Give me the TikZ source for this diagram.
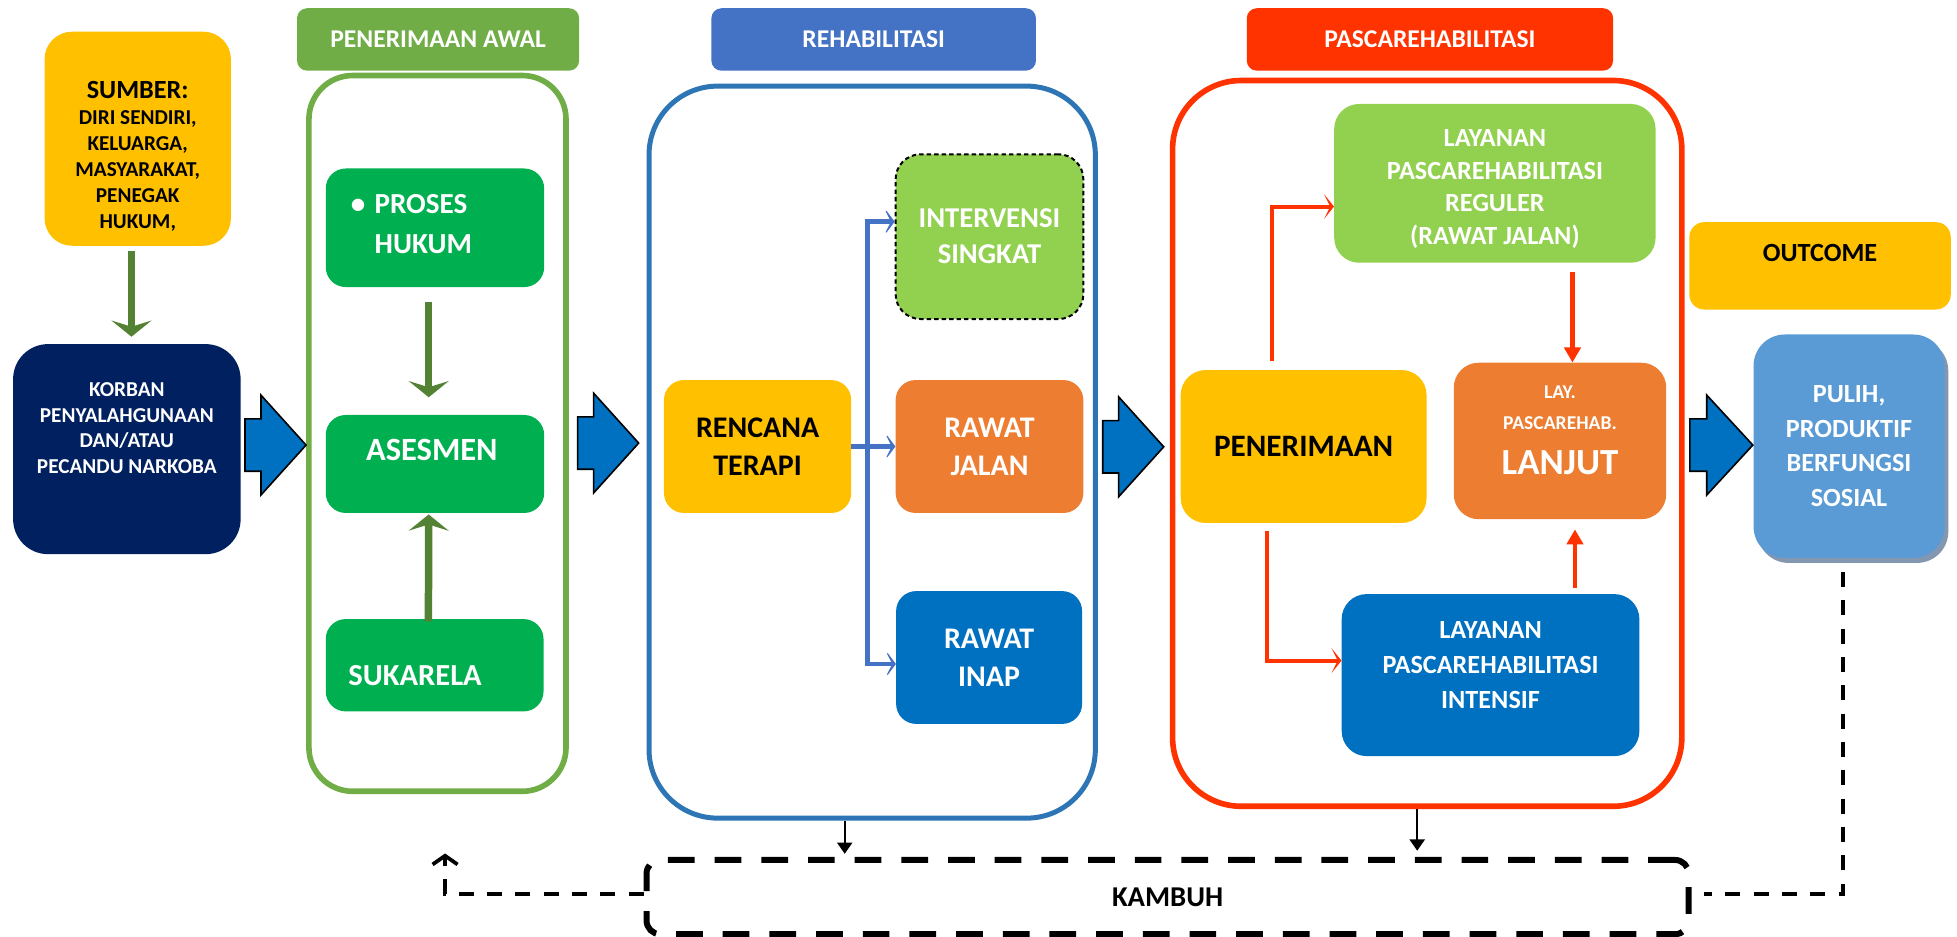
\documentclass[tikz,border=0pt]{standalone}
\usepackage{fontspec}
\setmainfont{Carlito}
\usetikzlibrary{arrows.meta,calc,shadows}
\definecolor{kuning}{HTML}{FFC000}
\definecolor{navy}{HTML}{002060}
\definecolor{hijaujudul}{HTML}{70AD47}
\definecolor{hijau}{HTML}{00B050}
\definecolor{hijautua}{HTML}{548235}
\definecolor{hijaumuda}{HTML}{92D050}
\definecolor{birujudul}{HTML}{4472C4}
\definecolor{biruwadah}{HTML}{2E75B6}
\definecolor{biru}{HTML}{0070C0}
\definecolor{birulangit}{HTML}{5B9BD5}
\definecolor{bayangan}{HTML}{8497B0}
\definecolor{oranye}{HTML}{ED7D31}
\definecolor{merah}{HTML}{FF3300}

\begin{document}
\begin{tikzpicture}[x=1pt,y=-1pt,
		kotak/.style={rectangle,rounded corners=16pt,inner sep=2pt,align=center,text=white,font=\bfseries},
		teks/.style={inner sep=0pt,align=center,text=white},
		wadah/.style={rectangle,draw,fill=none},
		judul/.style={rectangle,rounded corners=8pt,text=white,minimum height=50pt,font=\bfseries\fontsize{20.5}{24}\selectfont},
		panah blok/.style={draw=black,line width=1.3pt,fill=biru,line join=miter},
		panah hijau/.style={draw=hijautua,line width=6pt,-{Stealth[length=13pt,width=32pt,inset=5pt]}},
		panah cabang/.style={draw=birujudul,line width=3.5pt,-{Stealth[length=9pt,width=24pt,inset=6pt]}},
		panah merah/.style={draw=merah,line width=3.3pt,-{Stealth[length=8pt,width=20pt,inset=5pt]}},
		panah merah tebal/.style={draw=merah,line width=3.3pt,-{Triangle[length=12pt,width=13pt]}},
		garis hitam/.style={draw=black,line width=1.8pt,-{Triangle[length=9pt,width=12pt]}},
		putus/.style={draw=black,line width=3pt,dash pattern=on 12pt off 10.7pt}]
		\useasboundingbox (0,0) rectangle (1568,750);
		\clip (0,0) rectangle (1568,750);
		% sumber dan korban
		\node[kotak, fill=kuning, rounded corners=22pt, minimum width=149.3pt, minimum height=171.5pt] (sumber) at (110.35,111.15) {};
		\node[teks, text=black, font=\bfseries\fontsize{17}{20.7}\selectfont] (sumber-t) at (110.35,125.2) {{\fontsize{21}{22}\selectfont SUMBER:}\\DIRI SENDIRI,\\KELUARGA,\\MASYARAKAT,\\PENEGAK\\HUKUM,};
		\node[kotak, fill=navy, rounded corners=28pt, minimum width=182.3pt, minimum height=168.3pt] (korban) at (101.65,359.85) {};
		\node[teks, font=\bfseries\fontsize{17}{20.7}\selectfont] (korban-t) at (101.65,343) {KORBAN\\PENYALAHGUNAAN\\DAN/ATAU\\PECANDU NARKOBA};
		
		% penerimaan awal
		\node[judul, fill=hijaujudul, minimum width=226pt] (jawal) at (351,31.6) {PENERIMAAN AWAL};
		\node[wadah, draw=hijaujudul, line width=4.5pt, rounded corners=35pt, minimum width=206pt, minimum height=573.5pt] (awal) at (350.5,347.25) {};
		\node[kotak, fill=hijau, minimum width=175pt, minimum height=95pt] (proses) at (348.5,182.5) {};
		\node[teks, anchor=west, align=left, font=\bfseries\fontsize{23.3}{32}\selectfont] (proses-t) at (281,179.5) {\makebox[19pt][l]{\textbullet}PROSES\\\hspace*{19pt}HUKUM};
		\node[kotak, fill=hijau, minimum width=175pt, minimum height=78.5pt] (asesmen) at (348.5,371.75) {};
		\node[teks, font=\bfseries\fontsize{26}{30}\selectfont] (asesmen-t) at (346,360.6) {ASESMEN};
		\node[kotak, fill=hijau, minimum width=174.5pt, minimum height=74pt] (sukarela) at (348.25,533) {};
		\node[teks, anchor=west, font=\bfseries\fontsize{24.5}{30}\selectfont] (sukarela-t) at (279,541) {SUKARELA};
		
		% rehabilitasi
		\node[judul, fill=birujudul, minimum width=260pt] (jrehab) at (700,31.6) {REHABILITASI};
		\node[wadah, draw=biruwadah, line width=4pt, rounded corners=55pt, minimum width=357.6pt, minimum height=586.5pt] (rehab) at (698.8,362.25) {};
		\node[kotak, fill=kuning, text=black, minimum width=150pt, minimum height=106.5pt, font=\bfseries\fontsize{24}{30.5}\selectfont] (rencana) at (607,357.75) {RENCANA\\TERAPI};
		\node[kotak, fill=hijaumuda, draw=black, line width=1.6pt, dash pattern=on 3.5pt off 2.5pt, rounded corners=20pt, minimum width=150.4pt, minimum height=132pt, font=\bfseries\fontsize{23}{28.8}\selectfont] (intervensi) at (792.8,189.6) {INTERVENSI\\SINGKAT};
		\node[kotak, fill=oranye, minimum width=150.4pt, minimum height=106.5pt, font=\bfseries\fontsize{24}{30.5}\selectfont] (rawatjalan) at (792.8,357.75) {RAWAT\\JALAN};
		\node[kotak, fill=biru, minimum width=149pt, minimum height=106.4pt, font=\bfseries\fontsize{24}{30.5}\selectfont] (rawatinap) at (792.5,526.8) {RAWAT\\INAP};
		
		% pascarehabilitasi
		\node[judul, fill=merah, minimum width=293.5pt] (jpasca) at (1145.7,31.6) {PASCAREHABILITASI};
		\node[wadah, draw=merah, line width=4.5pt, rounded corners=55pt, minimum width=408pt, minimum height=581.5pt] (pasca) at (1143.5,355.25) {};
		\node[kotak, fill=hijaumuda, rounded corners=20pt, minimum width=257.5pt, minimum height=127.2pt] (reguler) at (1197.75,146.9) {};
		\node[teks, font=\bfseries\fontsize{21}{26}\selectfont] (reguler-t) at (1197.75,151.5) {LAYANAN\\PASCAREHABILITASI\\REGULER\\(RAWAT JALAN)};
		\node[kotak, fill=kuning, text=black, rounded corners=20pt, minimum width=197pt, minimum height=122.5pt, font=\bfseries\fontsize{25}{30}\selectfont] (penerimaan) at (1044.5,357.75) {PENERIMAAN};
		\node[kotak, fill=oranye, rounded corners=20pt, minimum width=170.2pt, minimum height=125.4pt] (lanjut) at (1249.9,353.3) {};
		\node[teks, font=\bfseries\fontsize{15.7}{25}\selectfont] (lanjut-t) at (1249.9,344.7) {LAY.\\PASCAREHAB.\\[11pt]{\fontsize{29.5}{32}\selectfont LANJUT}};
		\node[kotak, fill=biru, rounded corners=20pt, minimum width=238.5pt, minimum height=129.8pt] (intensif) at (1194.25,540.9) {};
		\node[teks, font=\bfseries\fontsize{21}{28}\selectfont] (intensif-t) at (1194.25,533) {LAYANAN\\PASCAREHABILITASI\\INTENSIF};
		
		% outcome
		\node[kotak, fill=kuning, rounded corners=12pt, minimum width=209.5pt, minimum height=70pt] (outcome) at (1458.25,213) {};
		\node[teks, text=black, font=\bfseries\fontsize{21}{24}\selectfont] (outcome-t) at (1458.25,202.5) {OUTCOME};
		\node[kotak, fill=birulangit, rounded corners=25pt, drop shadow={fill=bayangan,opacity=1,shadow xshift=3pt,shadow yshift=-4pt}, minimum width=153pt, minimum height=179pt, font=\bfseries\fontsize{21}{27.6}\selectfont] (pulih) at (1481.5,357.5) {PULIH,\\PRODUKTIF\\BERFUNGSI\\SOSIAL};
		
		% kambuh
		\node[kotak, draw=black, line width=4.8pt, dash pattern=on 21.4pt off 16pt, rounded corners=11pt, text=black, minimum width=835pt, minimum height=59.5pt, font=\bfseries\fontsize{23}{26}\selectfont] (kambuh) at (935.5,718.75) {KAMBUH};
		\coordinate (balik) at (356.6,683.8);
		
		% panah besar
		\draw[panah blok] (196.3,335.6) -- ++(12.8,0) -- ++(0,-19) -- ++(36.1,40) -- ++(-36.1,40) -- ++(0,-19) -- ++(-12.8,0) -- cycle;
		\draw[panah blok] (462.8,334) -- ++(12.8,0) -- ++(0,-19) -- ++(36.1,40) -- ++(-36.1,40) -- ++(0,-19) -- ++(-12.8,0) -- cycle;
		\draw[panah blok] (883.5,337) -- ++(12.8,0) -- ++(0,-19) -- ++(36.1,40) -- ++(-36.1,40) -- ++(0,-19) -- ++(-12.8,0) -- cycle;
		\draw[panah blok] (1354,335.6) -- ++(13.5,0) -- ++(0,-19) -- ++(36.9,40) -- ++(-36.9,40) -- ++(0,-19) -- ++(-13.5,0) -- cycle;
		
		% panah hijau
		\draw[panah hijau] ($(sumber.south)+(-5,4)$) -- ($(sumber.south |- korban.north)+(-5,-5.7)$);
		\draw[panah hijau] ($(proses.south)+(-5,11.7)$) -- ($(asesmen.north)+(-5,-14)$);
		\draw[panah hijau] ($(sukarela.north)+(-5,2)$) -- ($(asesmen.south)+(-5,1)$);
		
		% cabang rencana terapi
		\coordinate (cabang) at ($(rencana.east)+(13,0)$);
		\draw[panah cabang] (rencana.east) -- (rawatjalan.west);
		\draw[panah cabang] (cabang) |- ($(intervensi.west)+(0,-12)$);
		\draw[panah cabang] (cabang) |- ($(rawatinap.west)+(0,5.2)$);
		
		% alur pascarehabilitasi
		\draw[panah merah] ($(penerimaan.north)+(-25.5,-7)$) |- ($(reguler.west)+(0,18.6)$);
		\draw[panah merah tebal] ($(lanjut.north |- reguler.south)+(10,7)$) -- ($(lanjut.north)+(10,0)$);
		\draw[panah merah] ($(penerimaan.south)+(-29.5,6)$) |- ($(intensif.west)+(0,-11.6)$);
		\draw[panah merah tebal] ($(lanjut.south |- intensif.north)+(12,-5)$) -- ($(lanjut.south)+(12,8)$);
		
		% kambuh
		\draw[garis hitam] ($(rehab.south)+(-22,0)$) -- ($(rehab.south |- kambuh.north)+(-22,-2.5)$);
		\draw[garis hitam] ($(pasca.south)+(-8,0)$) -- ($(pasca.south |- kambuh.north)+(-8,-5)$);
		\draw[putus] ($(pulih.south)+(-5,11)$) |- ($(kambuh.east)+(10,-2.3)$);
		\draw[putus, -{Straight Barb[length=7pt,width=20pt]}] ($(kambuh.west)+(0,-2.2)$) -| (balik);
		
	\end{tikzpicture}
\end{document}
